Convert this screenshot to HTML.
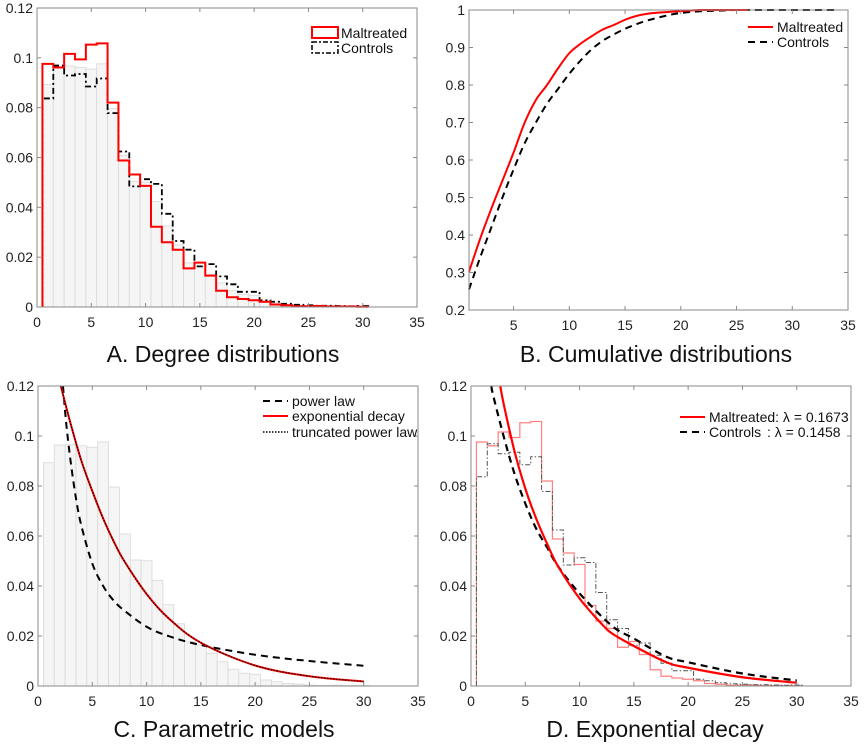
<!DOCTYPE html>
<html><head><meta charset="utf-8">
<style>
body{margin:0;background:#fff;}
svg{display:block;font-family:"Liberation Sans",Arial,sans-serif;}
.tick{font-size:14px;fill:#222;}
.leg{font-size:14px;fill:#111;}
.title{font-size:23px;fill:#111;}
</style></head>
<body>
<svg id="fig" width="865" height="748" viewBox="0 0 865 748"></svg>
<script>
// ---- data ----
const bins = [1,2,3,4,5,6,7,8,9,10,11,12,13,14,15,16,17,18,19,20,21,22,23,24,25,26,27,28,29,30];
const grayBars = [0.0893,0.0964,0.0967,0.0961,0.0955,0.0976,0.0796,0.0608,0.0504,0.0501,0.0423,0.0325,0.0249,0.0177,0.0164,0.0131,0.0097,0.0067,0.0051,0.0047,0.0024,0.0017,0.0010,0.0008,0.0004,0.0003,0.0003,0.0003,0.0002,0.0002];
const maltreatedHist = [0.0976,0.0961,0.1016,0.0994,0.1053,0.1058,0.0820,0.0588,0.0532,0.0486,0.0322,0.0260,0.0230,0.0155,0.0178,0.0126,0.0065,0.0039,0.0032,0.0027,0.0021,0.0010,0.0007,0.0003,0.0003,0.0004,0.0002,0.0002,0.0002,0.0001];
const controlsHist = [0.0837,0.0969,0.0929,0.0935,0.0885,0.0917,0.0778,0.0624,0.0484,0.0513,0.0494,0.0374,0.0265,0.0230,0.0163,0.0172,0.0123,0.0091,0.0061,0.0061,0.0027,0.0021,0.0013,0.0009,0.0007,0.0005,0.0005,0.0004,0.0003,0.0004];
const cdfMaltX = [1,2,3,4,5,6,7,8,9,10,11,12,13,14,15,16,17,18,19,20,21,22,23,24,25,26];
const cdfMalt = [0.302,0.39,0.47,0.545,0.62,0.70,0.76,0.80,0.845,0.885,0.91,0.93,0.948,0.96,0.974,0.984,0.99,0.993,0.995,0.997,0.999,1,1,1,1,1];
const cdfCtrlX = [1,2,3,4,5,6,7,8,9,10,11,12,13,14,15,16,17,18,19,20,21,22,23,24,25,26,27,28,29,30,31,32,33,34];
const cdfCtrl = [0.255,0.34,0.42,0.50,0.575,0.645,0.70,0.75,0.79,0.83,0.865,0.895,0.918,0.935,0.95,0.962,0.972,0.98,0.987,0.992,0.995,0.997,0.998,0.999,1,1,1,1,1,1,1,1,1,1];
const powerX = [2.3,2.6,3,3.5,4,5,6,7,8,10,12,15,20,25,30];
const powerY = [0.12,0.105,0.09,0.075,0.064,0.049,0.040,0.034,0.030,0.0237,0.020,0.0164,0.0125,0.0100,0.0081];
const expX = [2.1,3,4,5,6,7,8,10,12,15,20,25,30];
const expY = [0.12,0.105,0.090,0.078,0.067,0.0576,0.0496,0.0368,0.0272,0.0173,0.0082,0.0039,0.0018];
const fitMaltX = [2.7,3,4,5,6,7,8,10,12,13,15,18,20,25,30];
const fitMaltY = [0.12,0.113,0.094,0.079,0.067,0.057,0.048,0.035,0.025,0.021,0.016,0.0095,0.0073,0.0035,0.0013];
const fitCtrlX = [1.9,2,3,4,5,6,7,8,10,13,15,18,20,25,30];
const fitCtrlY = [0.12,0.117,0.100,0.085,0.073,0.063,0.0555,0.048,0.037,0.024,0.019,0.0117,0.0095,0.005,0.0022];
const histTicksY = [0,0.02,0.04,0.06,0.08,0.1,0.12];
const histTickLabelsY = ["0","0.02","0.04","0.06","0.08","0.1","0.12"];
const xTicks = [0,5,10,15,20,25,30,35];
const cdfTicksX = [5,10,15,20,25,30,35];
const cdfTicksY = [0.2,0.3,0.4,0.5,0.6,0.7,0.8,0.9,1];
const cdfTickLabelsY = ["0.2","0.3","0.4","0.5","0.6","0.7","0.8","0.9","1"];

const NS="http://www.w3.org/2000/svg";
const svg=document.getElementById('fig');
function mk(tag,attrs,parent){const e=document.createElementNS(NS,tag);for(const k in attrs)e.setAttribute(k,attrs[k]);(parent||svg).appendChild(e);return e;}

function makePanel(name,box,xd,yd){
  const g=mk('g',{});
  
  
  const sx=v=>box.x0+(v-xd[0])/(xd[1]-xd[0])*(box.x1-box.x0);
  const sy=v=>box.y1-(v-yd[0])/(yd[1]-yd[0])*(box.y1-box.y0);
  return {g,sx,sy,box};
}
function axes(p,xt,yt,ytl,name){
  const {g,sx,sy,box}=p;
  const fr=mk('rect',{x:box.x0,y:box.y0,width:box.x1-box.x0,height:box.y1-box.y0,fill:'none',stroke:'#8a8a8a','stroke-width':1},g);
  
  
  xt.forEach(v=>{
    const x=sx(v);
    mk('line',{x1:x,x2:x,y1:box.y1,y2:box.y1-4,stroke:'#8a8a8a'},g);
    mk('line',{x1:x,x2:x,y1:box.y0,y2:box.y0+4,stroke:'#8a8a8a'},g);
    const t=mk('text',{x:x,y:box.y1+20,'text-anchor':'middle',class:'tick'},g);
    t.textContent=String(v);
    
    
  });
  yt.forEach((v,i)=>{
    const y=sy(v);
    mk('line',{x1:box.x0,x2:box.x0+4,y1:y,y2:y,stroke:'#8a8a8a'},g);
    mk('line',{x1:box.x1,x2:box.x1-4,y1:y,y2:y,stroke:'#8a8a8a'},g);
    const t=mk('text',{x:box.x0-4,y:y+5,'text-anchor':'end',class:'tick'},g);
    t.textContent=ytl[i];
    
    
  });
}
function bars(p,vals,name){
  vals.forEach((v,i)=>{
    const k=bins[i];
    const r=mk('rect',{x:p.sx(k-0.5),y:p.sy(v),width:p.sx(k+0.5)-p.sx(k-0.5),height:p.sy(0)-p.sy(v),fill:'#f5f5f5',stroke:'#d8d8d8','stroke-width':0.8},p.g);
    
    
  });
}
function stairs(p,vals,style,name){
  let d='M'+p.sx(bins[0]-0.5)+','+p.sy(0);
  vals.forEach((v,i)=>{const k=bins[i];d+=' L'+p.sx(k-0.5)+','+p.sy(v)+' L'+p.sx(k+0.5)+','+p.sy(v);});
  d+=' L'+p.sx(bins[bins.length-1]+0.5)+','+p.sy(0);
  const e=mk('path',Object.assign({d:d,fill:'none'},style),p.g);
  
  
}
function line(p,xs,ys,style,name,smooth){
  const P=xs.map((x,i)=>[p.sx(x),p.sy(ys[i])]);
  let d='M'+P[0][0]+','+P[0][1];
  if(smooth){
    for(let i=0;i<P.length-1;i++){
      const p0=P[Math.max(i-1,0)],p1=P[i],p2=P[i+1],p3=P[Math.min(i+2,P.length-1)];
      const c1=[p1[0]+(p2[0]-p0[0])/6,p1[1]+(p2[1]-p0[1])/6];
      const c2=[p2[0]-(p3[0]-p1[0])/6,p2[1]-(p3[1]-p1[1])/6];
      d+=' C'+c1[0]+','+c1[1]+' '+c2[0]+','+c2[1]+' '+p2[0]+','+p2[1];
    }
  } else {
    for(let i=1;i<P.length;i++) d+=' L'+P[i][0]+','+P[i][1];
  }
  const e=mk('path',Object.assign({d:d,fill:'none','stroke-linejoin':'round'},style),p.g);
  
  
}
function legendLine(p,x,y,style,label,name){
  const l=mk('line',Object.assign({x1:x,x2:x+25,y1:y,y2:y},style),p.g);
  
  
  const t=mk('text',{x:x+29,y:y+5,class:'leg'},p.g);
  t.textContent=label;
  
  
  return t;
}
function title(x,y,txt,name){
  const t=mk('text',{x:x,y:y,'text-anchor':'middle',class:'title'});
  t.textContent=txt;
  
  
}
const RED={stroke:'#ff0000','stroke-width':2};
const BLKDASH={stroke:'#000','stroke-width':2,'stroke-dasharray':'7,5'};

// Panel A
const A=makePanel('panel-a-degree-distributions',{x0:37,x1:417,y0:8,y1:307},[0,35],[0,0.12]);
bars(A,grayBars,'panel-a-gray');
stairs(A,controlsHist,{stroke:'#000','stroke-width':1.8,'stroke-dasharray':'6,3,2,3'},'panel-a-controls-stairs');
stairs(A,maltreatedHist,{stroke:'#ff0000','stroke-width':2},'panel-a-maltreated-stairs');
axes(A,xTicks,histTicksY,histTickLabelsY,'panel-a');
(function(){
  const r1=mk('rect',{x:312,y:27,width:26,height:11,fill:'none',stroke:'#ff0000','stroke-width':2},A.g);
  
  const t1=mk('text',{x:341,y:38,class:'leg'},A.g);t1.textContent='Maltreated';
  
  const r2=mk('rect',{x:312,y:42,width:26,height:11,fill:'none',stroke:'#000','stroke-width':1.5,'stroke-dasharray':'5,2,2,2'},A.g);
  
  const t2=mk('text',{x:341,y:53,class:'leg'},A.g);t2.textContent='Controls';
  
})();
title(223,362,'A. Degree distributions','panel-a-title');

// Panel B
const B=makePanel('panel-b-cumulative',{x0:469,x1:848,y0:10,y1:310},[1,35],[0.2,1]);
line(B,cdfCtrlX,cdfCtrl,BLKDASH,'panel-b-controls-line',true);
line(B,cdfMaltX,cdfMalt,RED,'panel-b-maltreated-line',true);
axes(B,cdfTicksX,cdfTicksY,cdfTickLabelsY,'panel-b');
legendLine(B,748,27,RED,'Maltreated','panel-b-legend-maltreated');
legendLine(B,748,42,BLKDASH,'Controls','panel-b-legend-controls');
title(656,362,'B. Cumulative distributions','panel-b-title');

// Panel C
const C=makePanel('panel-c-parametric',{x0:38,x1:418,y0:386,y1:686},[0,35],[0,0.12]);
bars(C,grayBars,'panel-c-gray');
line(C,powerX,powerY,BLKDASH,'panel-c-power-law',true);
line(C,expX,expY,RED,'panel-c-exponential',true);
line(C,expX,expY,{stroke:'#000','stroke-width':1.2,'stroke-dasharray':'1.5,1.5'},'panel-c-truncated-power-law',true);
axes(C,xTicks,histTicksY,histTickLabelsY,'panel-c');
legendLine(C,263,401,BLKDASH,'power law','panel-c-legend-power');
legendLine(C,263,416,RED,'exponential decay','panel-c-legend-exp');
legendLine(C,263,432,{stroke:'#000','stroke-width':1.5,'stroke-dasharray':'1.5,1.5'},'truncated power law','panel-c-legend-trunc');
title(224,737,'C. Parametric models','panel-c-title');

// Panel D
const D=makePanel('panel-d-exponential',{x0:471,x1:851,y0:386,y1:686},[0,35],[0,0.12]);
stairs(D,maltreatedHist,{stroke:'#ff8080','stroke-width':1.2},'panel-d-maltreated-stairs');
stairs(D,controlsHist,{stroke:'#555','stroke-width':1,'stroke-dasharray':'5,2,1.5,2'},'panel-d-controls-stairs');
line(D,fitCtrlX,fitCtrlY,{stroke:'#000','stroke-width':2.2,'stroke-dasharray':'7,5'},'panel-d-controls-fit',true);
line(D,fitMaltX,fitMaltY,{stroke:'#ff0000','stroke-width':2.2},'panel-d-maltreated-fit',true);
axes(D,xTicks,histTicksY,histTickLabelsY,'panel-d');
legendLine(D,680,417,RED,'Maltreated: \u03bb = 0.1673','panel-d-legend-maltreated');
const lc=legendLine(D,680,432,BLKDASH,'Controls','panel-d-legend-controls');
const lc2=mk('text',{x:767,y:437,class:'leg'},D.g);
lc2.textContent=': \u03bb = 0.1458';


title(655,737,'D. Exponential decay','panel-d-title');
</script>
</body></html>
